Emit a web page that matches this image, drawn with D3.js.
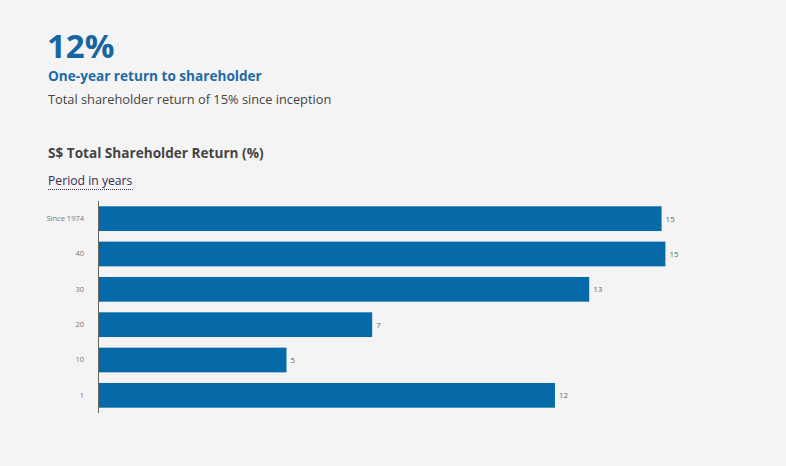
<!DOCTYPE html>
<html><head><meta charset="utf-8">
<script src="https://cdn.jsdelivr.net/npm/d3@7"></script>
<style>
html,body{margin:0;padding:0;background:#f4f4f4;}
svg{display:block;font-family:"Open Sans",sans-serif;}
</style></head>
<body>
<svg id="c" width="786" height="466"></svg>
<script>
const categories = ["Since 1974", "40", "30", "20", "10", "1"];
const values = [14.8, 14.9, 12.9, 7.2, 4.95, 12.0];
const headline = "12%";
const subtitle1 = "One-year return to shareholder";
const subtitle2 = "Total shareholder return of 15% since inception";
const chartTitle = "S$ Total Shareholder Return (%)";
const axisTitle = "Period in years";

const svg = d3.select("#c");
svg.append("rect").attr("width",786).attr("height",466).attr("fill","#f4f4f4");

svg.append("text").attr("x",47).attr("y",58).attr("font-size",33).attr("font-weight",700)
  .attr("fill","#1766a2").text(headline);
svg.append("text").attr("x",48).attr("y",81).attr("font-size",13.6).attr("font-weight",700)
  .attr("fill","#1f6aa5").text(subtitle1);
svg.append("text").attr("x",48).attr("y",104).attr("font-size",12.8)
  .attr("fill","#444").text(subtitle2);
svg.append("text").attr("x",48).attr("y",158).attr("font-size",13.6).attr("font-weight",700)
  .attr("fill","#444").text(chartTitle);
const at = svg.append("text").attr("x",48).attr("y",185).attr("font-size",12.2)
  .attr("fill","#3a2a52").text(axisTitle);
const bb = at.node().getBBox();
svg.append("line").attr("x1",48).attr("x2",bb.x+bb.width).attr("y1",189.5).attr("y2",189.5)
  .attr("stroke","#3a2a52").attr("stroke-width",1).attr("stroke-dasharray","1,1");

const x0 = 98;
const x = d3.scaleLinear().domain([0,16]).range([x0, x0 + 16*38.08]);
const y = d3.scaleBand().domain(categories).range([201,413]).paddingInner(0.3).paddingOuter(0.15);

svg.selectAll("rect.bar").data(values).join("rect").attr("class","bar")
  .attr("x", x(0)).attr("y",(d,i)=>y(categories[i]))
  .attr("width", d=>x(d)-x(0)).attr("height", y.bandwidth())
  .attr("fill","#056aa7");

const fmt = d3.format(".0f");
svg.selectAll("text.val").data(values).join("text").attr("class","val")
  .attr("x", d=>x(d)+4).attr("y",(d,i)=>y(categories[i])+y.bandwidth()/2+3)
  .attr("font-size",8).attr("fill","#666").text(d=>fmt(d));

const yAxis = d3.axisLeft(y).tickSize(0).tickPadding(14);
const g = svg.append("g").attr("transform",`translate(${x0},0)`).call(yAxis);
g.select(".domain").attr("stroke","#6b6459").attr("d","M0.5,201V413");
g.selectAll("text").attr("font-size",7.5).attr("fill","#777").attr("font-family","Open Sans, sans-serif");
</script>
</body></html>
